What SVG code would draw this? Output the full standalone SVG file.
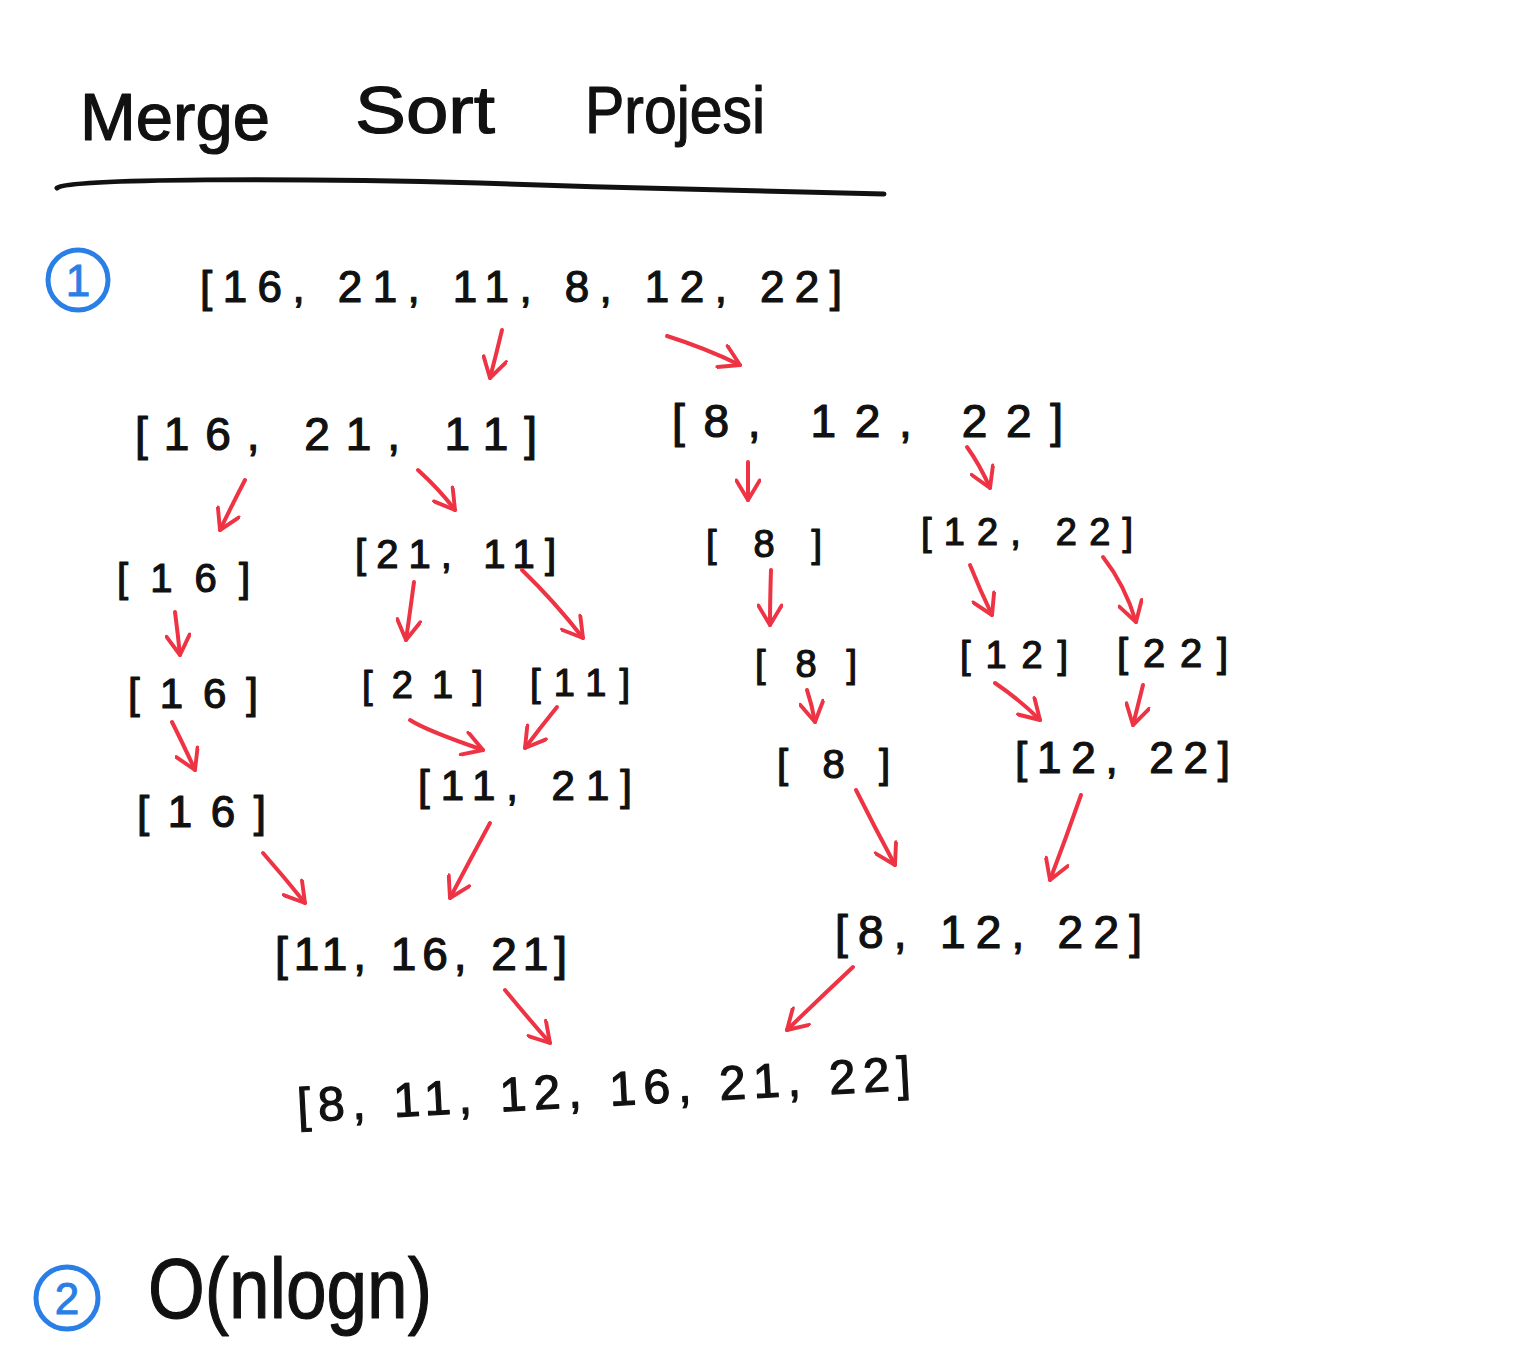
<svg xmlns="http://www.w3.org/2000/svg" width="1536" height="1370" viewBox="0 0 1536 1370">
<style>
.t{font-family:"Liberation Sans","DejaVu Sans",sans-serif;fill:#111;stroke:#111;stroke-width:1.2;stroke-linejoin:round;}
.b{font-family:"Liberation Sans","DejaVu Sans",sans-serif;fill:#2a7fe6;stroke:#2a7fe6;stroke-width:1;}
.circ{fill:none;stroke:#2a7fe6;stroke-width:5;}
.arr{fill:none;stroke:#ee3344;stroke-width:4;stroke-linecap:round;stroke-linejoin:round;marker-end:url(#h);}
</style>
<defs>
<marker id="h" viewBox="0 0 20 20" refX="18" refY="10" markerWidth="26" markerHeight="26" markerUnits="userSpaceOnUse" orient="auto">
<path d="M3,1 L18,10 L3,19" fill="none" stroke="#ee3344" stroke-width="3" stroke-linecap="round" stroke-linejoin="round"/>
</marker>
</defs>
<rect width="1536" height="1370" fill="#fff"/>
<g id="title">
<text class="t" x="80" y="140" font-size="66" textLength="190" lengthAdjust="spacingAndGlyphs">Merge</text>
<text class="t" x="355" y="133" font-size="66" textLength="140" lengthAdjust="spacingAndGlyphs">Sort</text>
<text class="t" x="585" y="133" font-size="66" textLength="180" lengthAdjust="spacingAndGlyphs">Projesi</text>
<path d="M57,188 C70,178 300,178 480,183 C620,188 780,192 884,194" fill="none" stroke="#111" stroke-width="5" stroke-linecap="round"/>
</g>
<g id="label1">
<circle class="circ" cx="78" cy="280" r="30"/>
<text class="b" x="78" y="296" font-size="44" text-anchor="middle">1</text>
</g>
<g id="n0"><text class="t" x="200" y="302" font-size="44" textLength="642" lengthAdjust="spacing">[16, 21, 11, 8, 12, 22]</text></g>
<g id="n1a"><text class="t" x="135" y="450" font-size="46" textLength="402" lengthAdjust="spacing">[16, 21, 11]</text></g>
<g id="n1b"><text class="t" x="672" y="437" font-size="46" textLength="391" lengthAdjust="spacing">[8, 12, 22]</text></g>
<g id="n2a"><text class="t" x="117" y="592" font-size="40" textLength="133" lengthAdjust="spacing">[16]</text></g>
<g id="n2b"><text class="t" x="355" y="568" font-size="40" textLength="201" lengthAdjust="spacing">[21, 11]</text></g>
<g id="n2c"><text class="t" x="706" y="557" font-size="38" textLength="116" lengthAdjust="spacing">[8]</text></g>
<g id="n2d"><text class="t" x="921" y="545" font-size="38" textLength="212" lengthAdjust="spacing">[12, 22]</text></g>
<g id="n3a"><text class="t" x="128" y="708" font-size="42" textLength="130" lengthAdjust="spacing">[16]</text></g>
<g id="n3b"><text class="t" x="362" y="698" font-size="38" textLength="121" lengthAdjust="spacing">[21]</text></g>
<g id="n3c"><text class="t" x="530" y="696" font-size="38" textLength="100" lengthAdjust="spacing">[11]</text></g>
<g id="n3d"><text class="t" x="755" y="677" font-size="38" textLength="102" lengthAdjust="spacing">[8]</text></g>
<g id="n3e"><text class="t" x="960" y="668" font-size="38" textLength="108" lengthAdjust="spacing">[12]</text></g>
<g id="n3f"><text class="t" x="1117" y="667" font-size="40" textLength="111" lengthAdjust="spacing">[22]</text></g>
<g id="n4a"><text class="t" x="137" y="827" font-size="44" textLength="129" lengthAdjust="spacing">[16]</text></g>
<g id="n4b"><text class="t" x="418" y="800" font-size="42" textLength="214" lengthAdjust="spacing">[11, 21]</text></g>
<g id="n4c"><text class="t" x="777" y="778" font-size="40" textLength="113" lengthAdjust="spacing">[8]</text></g>
<g id="n4d"><text class="t" x="1015" y="773" font-size="44" textLength="215" lengthAdjust="spacing">[12, 22]</text></g>
<g id="n5a"><text class="t" x="275" y="970" font-size="46" textLength="292" lengthAdjust="spacing">[11, 16, 21]</text></g>
<g id="n5b"><text class="t" x="835" y="948" font-size="46" textLength="307" lengthAdjust="spacing">[8, 12, 22]</text></g>
<g id="n6"><text class="t" x="298" y="1122" font-size="48" textLength="614" lengthAdjust="spacing" transform="rotate(-3 298 1122)">[8, 11, 12, 16, 21, 22]</text></g>
<g id="label2">
<circle class="circ" cx="67" cy="1298" r="31"/>
<text class="b" x="67" y="1314" font-size="44" text-anchor="middle">2</text>
</g>
<g id="complexity"><text class="t" x="148" y="1318" font-size="86" textLength="284" lengthAdjust="spacingAndGlyphs">O(nlogn)</text></g>
<g id="connectors">
<path class="arr" d="M502,330 Q496,355 490,378"/>
<path class="arr" d="M667,336 Q705,348 740,365"/>
<path class="arr" d="M245,480 Q232,505 220,530"/>
<path class="arr" d="M418,470 Q440,490 455,510"/>
<path class="arr" d="M748,462 Q748,482 748,500"/>
<path class="arr" d="M967,447 Q980,465 990,488"/>
<path class="arr" d="M175,612 Q178,635 180,655"/>
<path class="arr" d="M414,582 Q410,612 406,640"/>
<path class="arr" d="M522,570 Q555,602 583,638"/>
<path class="arr" d="M771,570 Q770,600 770,625"/>
<path class="arr" d="M970,565 Q980,590 992,615"/>
<path class="arr" d="M1103,557 Q1125,585 1136,622"/>
<path class="arr" d="M172,722 Q185,748 195,770"/>
<path class="arr" d="M410,720 Q425,730 483,750"/>
<path class="arr" d="M557,707 Q540,728 525,748"/>
<path class="arr" d="M807,690 Q812,705 815,722"/>
<path class="arr" d="M995,683 Q1020,700 1040,720"/>
<path class="arr" d="M1143,685 Q1138,705 1133,725"/>
<path class="arr" d="M263,853 Q285,878 305,903"/>
<path class="arr" d="M490,823 Q470,860 450,898"/>
<path class="arr" d="M856,790 Q875,828 895,865"/>
<path class="arr" d="M1081,795 Q1066,838 1050,880"/>
<path class="arr" d="M505,990 Q528,1018 550,1043"/>
<path class="arr" d="M853,967 Q820,998 787,1030"/>
</g>
</svg>
